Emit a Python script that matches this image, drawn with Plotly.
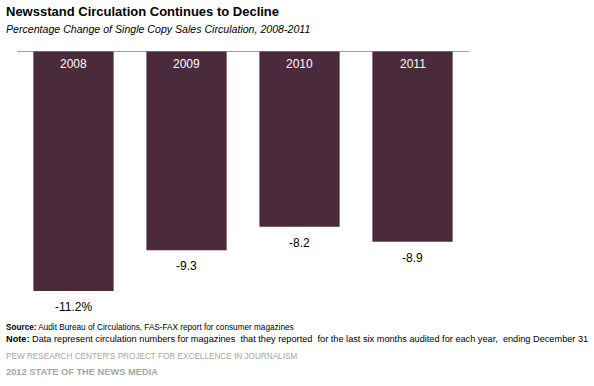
import plotly.graph_objects as go

years = ["2008", "2009", "2010", "2011"]
changes = [-11.2, -9.3, -8.2, -8.9]
value_labels = ["-11.2%", "-9.3", "-8.2", "-8.9"]

bar_color = "#4B2B3B"
W, H = 594, 386
top, bottom = 51, 86
left, right = 17, W - 469
FONT = "Arial, Liberation Sans"

fig = go.Figure()
fig.add_trace(go.Bar(
    x=years, y=changes, marker=dict(color=bar_color, line=dict(width=0)),
    hoverinfo="skip", showlegend=False,
))

ann = []
# category axis: annotation positions given as category index
for i, (yr, v, lab) in enumerate(zip(years, changes, value_labels)):
    ann.append(dict(x=i, y=0, xref="x", yref="y", text=yr, showarrow=False,
                    yanchor="top", yshift=-4,
                    font=dict(family=FONT, size=12, color="white")))
    ann.append(dict(x=i, y=v, xref="x", yref="y", text=lab, showarrow=False,
                    yanchor="top", yshift=-7,
                    font=dict(family=FONT, size=12, color="black")))

texts = [
    ("<b>Newsstand Circulation Continues to Decline</b>", 11, 13, "black"),
    ("<i>Percentage Change of Single Copy Sales Circulation, 2008-2011</i>", 29, 10.6, "black"),
    ("<b>Source:</b> Audit Bureau of Circulations, FAS-FAX report for consumer magazines", 327, 8.2, "black"),
    ("<b>Note:</b> Data represent circulation numbers for magazines  that they reported  for the last six months audited for each year,  ending December 31", 339, 9.2, "black"),
    ("PEW RESEARCH CENTER'S PROJECT FOR EXCELLENCE IN JOURNALISM", 356, 8.2, "#A6A6A6"),
    ("<b>2012 STATE OF THE NEWS MEDIA</b>", 372, 9.3, "#A6A6A6"),
]
plot_h = H - top - bottom
plot_w = W - left - right
for txt, ypx, size, color in texts:
    yp = (H - bottom - ypx) / plot_h
    xp = (4 - left) / plot_w
    ann.append(dict(x=xp, y=yp, xref="paper", yref="paper", xanchor="left",
                    yanchor="middle", text=txt, showarrow=False, align="left",
                    font=dict(family=FONT, size=size, color=color)))

fig.update_layout(
    width=W, height=H,
    margin=dict(l=left, r=right, t=top, b=bottom),
    paper_bgcolor="white", plot_bgcolor="white",
    bargap=0.29,
    xaxis=dict(type="category", range=[-0.5, len(years) - 0.5], showticklabels=False,
               showgrid=False, zeroline=False, showline=False, ticks=""),
    yaxis=dict(range=[-11.62, 0], showticklabels=False, showgrid=False,
               zeroline=False, showline=False, ticks=""),
    shapes=[dict(type="line", xref="paper", yref="y", x0=0, x1=1, y0=0, y1=0,
                 line=dict(color="#808080", width=1.5))],
    annotations=ann,
)
fig.write_html("out.html", config={"displayModeBar": False},
               post_script="document.body.style.margin='0';")
